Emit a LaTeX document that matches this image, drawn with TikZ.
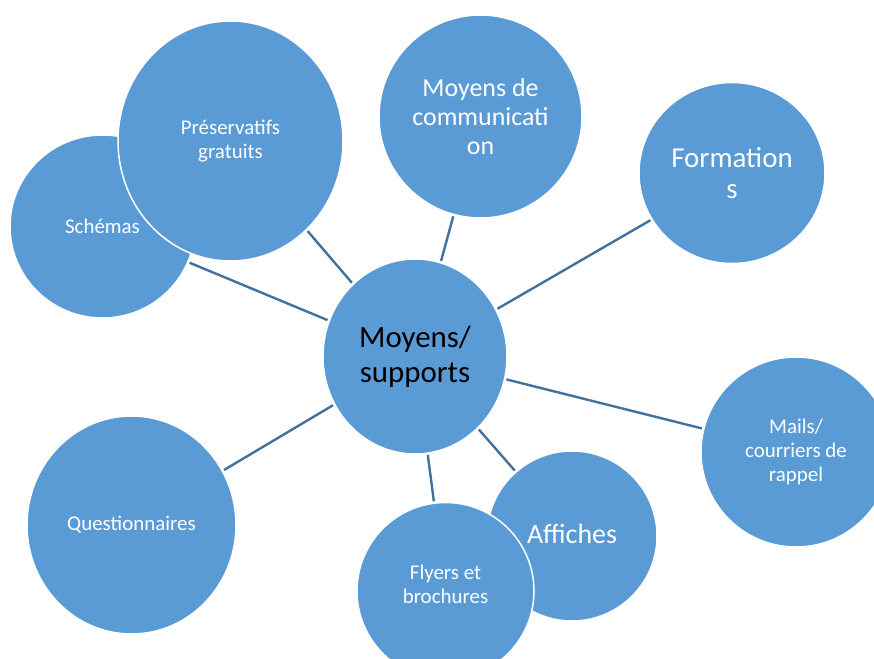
\documentclass[tikz,border=0pt]{standalone}
\usepackage{fontspec}
\setmainfont{Carlito}
\usepackage{tikz}
\usetikzlibrary{shapes.geometric}
\definecolor{bleu}{HTML}{5B9BD5}
\definecolor{trait}{HTML}{41719C}

\begin{document}
\begin{tikzpicture}[x = 1bp, y = -1bp,
  bulle/.style = {ellipse, fill = bleu, draw = white, line width = 1.5bp, inner sep = 0pt, outer sep = 2bp, text = white, align = center, font = \fontsize{21}{24}\selectfont},
  lien/.style = {draw = trait, line width = 2.4bp}]
\useasboundingbox (0, 0) rectangle (874, 659);
\clip (0, 0) rectangle (874, 659);
\node[bulle, minimum width = 185bp, minimum height = 183bp] (schem) at (102.5, 226.5) {Schémas};
\node[bulle, minimum width = 225bp, minimum height = 240bp] (pres) at (230.5, 141) {Préservatifs\\gratuits};
\node[bulle, minimum width = 203bp, minimum height = 203bp, font = \fontsize{26}{29}\selectfont] (comm) at (480.5, 116.5) {Moyens de\\communicati\\on};
\node[bulle, minimum width = 186bp, minimum height = 181bp, font = \fontsize{29}{31}\selectfont] (form) at (732, 173) {Formation\\s};
\node[bulle, minimum width = 190bp, minimum height = 190bp] (mail) at (796, 452) {Mails/\\courriers de\\rappel};
\node[bulle, minimum width = 170bp, minimum height = 170bp] (aff) at (572, 536) {};
\node[bulle, minimum width = 177bp, minimum height = 177bp] (fly) at (445.5, 591) {};
\node[text = white, font = \fontsize{28}{31}\selectfont] (afftxt) at (572, 534) {Affiches};
\node[text = white, align = center, font = \fontsize{21}{24}\selectfont] (flytxt) at (445.5, 584) {Flyers et\\brochures};
\node[bulle, minimum width = 209bp, minimum height = 218bp] (quest) at (131.5, 525) {Questionnaires};
\node[bulle, minimum width = 184bp, minimum height = 195bp, text = black, font = \fontsize{31}{35}\selectfont] (ctr) at (415, 356.5) {Moyens/\\supports};
\draw[lien] (ctr) -- (schem);
\draw[lien] (ctr) -- (pres);
\draw[lien] (ctr) -- (comm);
\draw[lien] (ctr) -- (form);
\draw[lien] (ctr) -- (mail);
\draw[lien] (ctr) -- (aff);
\draw[lien] (ctr) -- (fly);
\draw[lien] (ctr) -- (quest);
\end{tikzpicture}
\end{document}
